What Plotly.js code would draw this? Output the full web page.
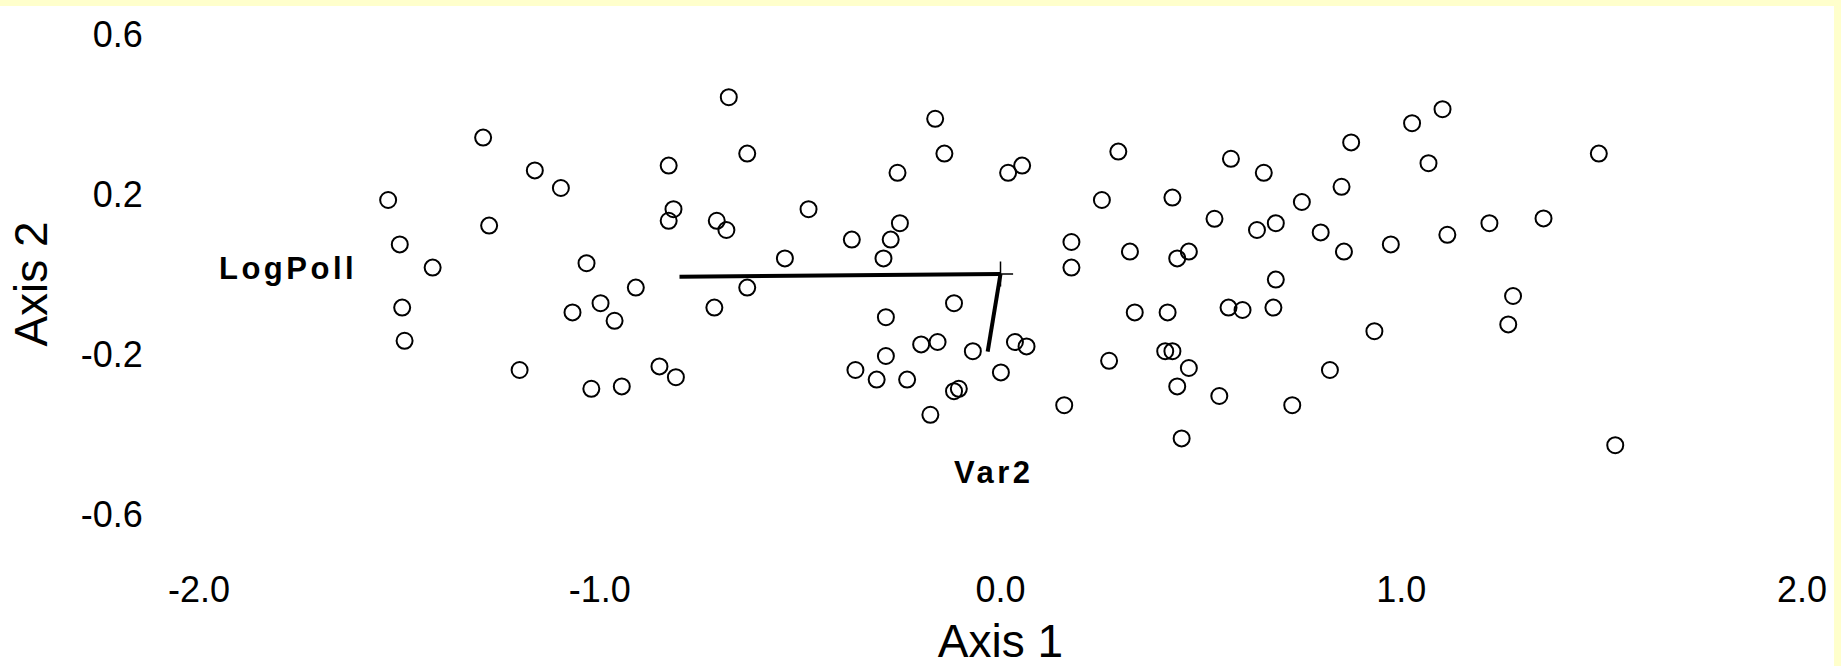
<!DOCTYPE html>
<html>
<head>
<meta charset="utf-8">
<script src="https://cdn.plot.ly/plotly-3.0.1.min.js"></script>
<style>
  html, body { margin: 0; padding: 0; background: #FFFFCC; width: 1841px; height: 666px; overflow: hidden; }
  #chart { position: absolute; left: 0; top: 6px; width: 1834px; height: 690px; background: #ffffff; }
  .annotation-text { letter-spacing: 3.5px; }
</style>
</head>
<body>
<div id="chart"></div>
<script>
// Sample scores on the ordination axes
const axis1Scores = [
  -1.528, -1.499, -1.417, -1.493, -1.487, -1.291, -1.276, -1.200, -1.162, -1.097,
  -1.033, -1.068, -0.998, -0.963, -1.021, -0.945, -0.910, -0.851, -0.810, -0.828,
  -0.816, -0.828, -0.708, -0.684, -0.678, -0.632, -0.714, -0.632, -0.538, -0.479,
  -0.371, -0.292, -0.274, -0.251, -0.257, -0.286, -0.163, -0.140, -0.116, -0.362,
  -0.309, -0.286, -0.233, -0.198, -0.157, -0.069, -0.116, -0.104, -0.175, 0.001,
  0.036, 0.065, 0.019, 0.054, 0.177, 0.177, 0.159, 0.253, 0.294, 0.323,
  0.335, 0.271, 0.429, 0.441, 0.470, 0.417, 0.411, 0.429, 0.441, 0.470,
  0.452, 0.534, 0.575, 0.569, 0.604, 0.546, 0.657, 0.640, 0.687, 0.687,
  0.681, 0.728, 0.752, 0.799, 0.851, 0.857, 0.875, 0.822, 0.933, 0.974,
  1.027, 1.068, 1.103, 1.115, 1.220, 1.279, 1.267, 1.355, 1.493, 1.534
];
const axis2Scores = [
  0.185, 0.074, 0.016, -0.084, -0.167, 0.341, 0.121, -0.240, 0.259, 0.215,
  0.027, -0.096, -0.073, -0.117, -0.287, -0.281, -0.034, -0.231, -0.258, 0.271,
  0.162, 0.133, 0.133, 0.110, 0.442, 0.301, -0.084, -0.034, 0.039, 0.162,
  0.086, 0.039, 0.086, 0.127, 0.253, -0.108, 0.388, 0.301, -0.073, -0.240,
  -0.264, -0.205, -0.264, -0.176, -0.170, -0.193, -0.293, -0.287, -0.352, -0.246,
  -0.170, -0.181, 0.253, 0.271, 0.080, 0.016, -0.328, 0.185, 0.306, 0.056,
  -0.096, -0.217, 0.191, 0.039, 0.056, -0.096, -0.193, -0.193, -0.281, -0.235,
  -0.411, 0.138, 0.288, -0.084, -0.090, -0.305, 0.253, 0.110, 0.127, -0.014,
  -0.084, -0.328, 0.180, 0.104, 0.218, 0.056, 0.329, -0.240, -0.143, 0.074,
  0.377, 0.277, 0.412, 0.098, 0.127, -0.055, -0.126, 0.139, 0.301, -0.428
];

// Environmental vectors (joint plot)
const vectorNames = ["LogPoll", "Var2"];
const vectorX = [-0.801, -0.032];
const vectorY = [-0.007, -0.194];
const labelX = [-1.779, -0.017];
const labelY = [0.015, -0.495];

// Axis ticks
const xTickVals = [-2, -1, 0, 1, 2];
const xTickText = ["-2.0", "-1.0", "0.0", "1.0", "2.0"];
const yTickVals = [-0.6, -0.2, 0.2, 0.6];
const yTickText = ["-0.6", "-0.2", "0.2", "0.6"];

const FONT = "Liberation Sans, Arial, Helvetica, sans-serif";

const traces = [];
vectorNames.forEach((name, i) => {
  traces.push({
    type: "scatter", mode: "lines",
    x: [0, vectorX[i]], y: [0, vectorY[i]],
    line: { color: "#000000", width: 4 },
    hoverinfo: "skip", showlegend: false
  });
});
traces.push({
  type: "scatter", mode: "markers",
  x: axis1Scores, y: axis2Scores,
  marker: { symbol: "circle-open", size: 16, color: "#000000", line: { width: 2, color: "#000000" } },
  showlegend: false
});
traces.push({
  type: "scatter", mode: "markers",
  x: [0], y: [0],
  marker: { symbol: "cross-thin-open", size: 18, color: "#000000", line: { width: 1.5, color: "#000000" } },
  showlegend: false, hoverinfo: "skip"
});

const annotations = vectorNames.map((name, i) => ({
  x: labelX[i], y: labelY[i], xref: "x", yref: "y",
  text: name, showarrow: false,
  font: { family: FONT, size: 31, color: "#000000", weight: "bold" },
  xanchor: "center", yanchor: "middle"
}));

const layout = {
  width: 1834, height: 690,
  margin: { l: 199, r: 32, t: 8, b: 142 },
  paper_bgcolor: "#ffffff", plot_bgcolor: "#ffffff",
  showlegend: false,
  font: { family: FONT, color: "#000000" },
  xaxis: {
    range: [-2, 2], tickvals: xTickVals, ticktext: xTickText,
    showgrid: false, zeroline: false, showline: false,
    ticks: "outside", ticklen: 4, tickcolor: "rgba(0,0,0,0)",
    tickfont: { family: FONT, size: 36, color: "#000000" },
    title: { text: "Axis 1", font: { family: FONT, size: 46, color: "#000000" }, standoff: 15 },
    automargin: false
  },
  yaxis: {
    range: [-0.70, 0.65], tickvals: yTickVals, ticktext: yTickText,
    showgrid: false, zeroline: false, showline: false,
    ticks: "outside", ticklen: 48, tickcolor: "rgba(0,0,0,0)",
    tickfont: { family: FONT, size: 36, color: "#000000" },
    title: { text: "Axis 2", font: { family: FONT, size: 46, color: "#000000" }, standoff: 18 },
    automargin: false
  },
  annotations: annotations
};

Plotly.newPlot("chart", traces, layout, { displayModeBar: false, staticPlot: true });
</script>
</body>
</html>
